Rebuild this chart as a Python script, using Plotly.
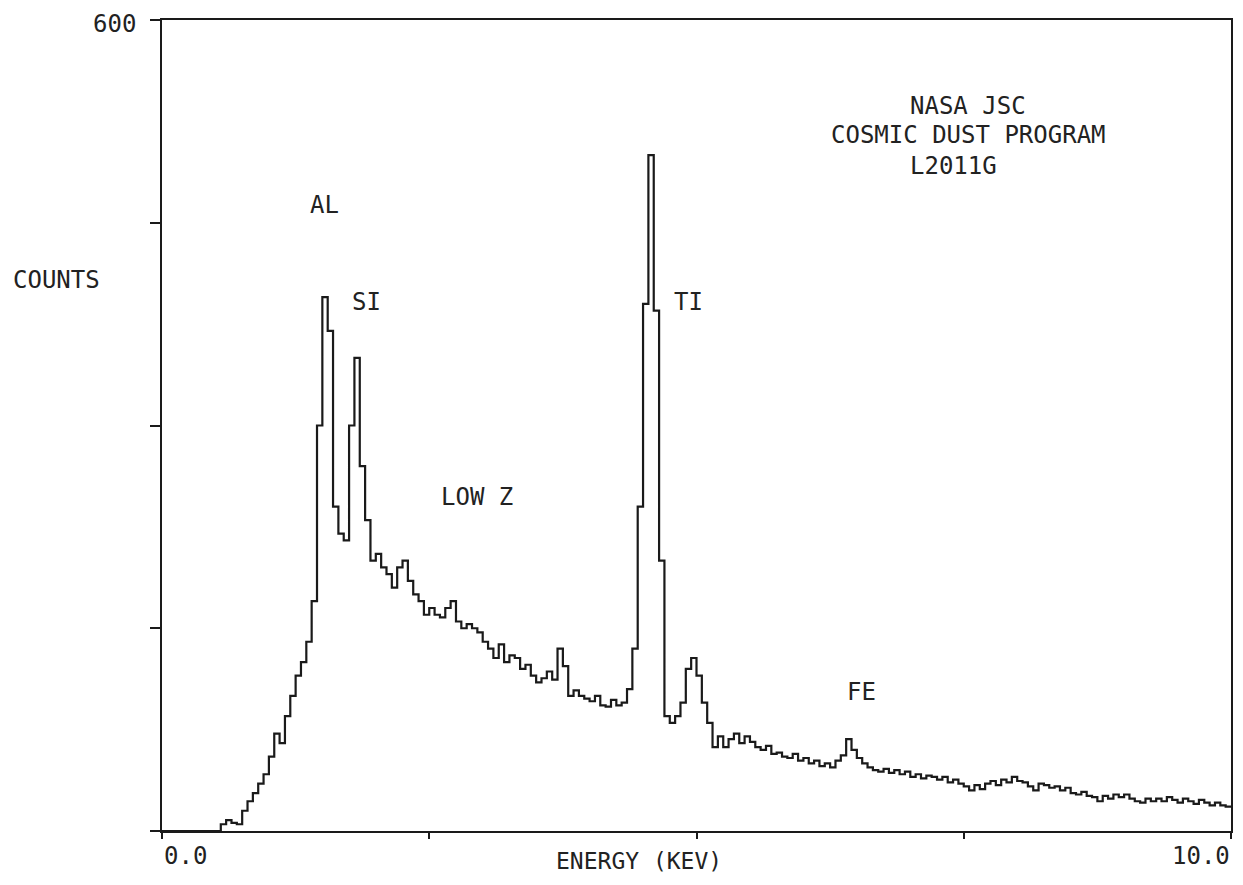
import plotly.graph_objects as go

# Channel energies (keV, left edge of each 0.05 keV channel) and counts
channel_width = 0.05
counts = [
    0, 0, 0, 0, 0, 0, 0, 0, 0, 0,            # 0.00-0.45
    0, 5, 8, 6, 5, 15, 22, 28, 35, 42,       # 0.50-0.95
    55, 72, 65, 85, 100, 115, 125, 140, 170, 300,   # 1.00-1.45
    395, 370, 240, 220, 215, 300, 350, 270, 230, 200,  # 1.50-1.95
    205, 195, 190, 180, 195, 200, 185, 175, 170, 160,  # 2.00-2.45
    165, 160, 158, 165, 170, 155, 150, 153, 150, 147,  # 2.50-2.95
    140, 135, 128, 138, 125, 130, 128, 120, 123, 115,  # 3.00-3.45
    110, 113, 118, 112, 135, 122, 100, 104, 100, 98,   # 3.50-3.95
    96, 100, 93, 92, 97, 93, 95, 105, 135, 240,        # 4.00-4.45
    390, 500, 385, 200, 85, 80, 85, 95, 120, 128,      # 4.50-4.95
    115, 95, 80, 62, 70, 62, 68, 72, 65, 70,           # 5.00-5.45
    66, 62, 60, 63, 57, 58, 55, 54, 57, 52,            # 5.50-5.95
    54, 50, 52, 48, 50, 47, 52, 56, 68, 60,            # 6.00-6.45
    54, 50, 47, 45, 44, 46, 43, 45, 42, 44,            # 6.50-6.95
    40, 42, 39, 41, 40, 38, 40, 36, 38, 35,            # 7.00-7.45
    33, 30, 34, 31, 35, 37, 34, 38, 36, 40,            # 7.50-7.95
    37, 36, 33, 30, 35, 34, 32, 33, 30, 32,            # 8.00-8.45
    28, 27, 29, 26, 25, 22, 26, 24, 27, 25,            # 8.50-8.95
    27, 24, 22, 21, 24, 22, 24, 22, 25, 23,            # 9.00-9.45
    21, 24, 22, 20, 23, 21, 19, 21, 19, 18,            # 9.50-9.95
]
energies = [round(i * channel_width, 3) for i in range(len(counts))]

x_tick_values = [0, 2.5, 5.0, 7.5, 10.0]
y_tick_values = [0, 150, 300, 450, 600]
x_end_labels = ["0.0", "10.0"]
y_top_label = "600"

peak_labels = ["AL", "SI", "LOW Z", "TI", "FE"]
header_lines = ["NASA JSC", "COSMIC DUST PROGRAM", "L2011G"]

# step line: append last edge
xs = energies + [10.0]
ys = counts + [counts[-1]]

fig = go.Figure()
fig.add_trace(go.Scatter(
    x=xs, y=ys, mode="lines", line=dict(shape="hv", color="#1a1a1a", width=2.2),
    hoverinfo="skip", showlegend=False,
))

FONT = "DejaVu Sans Mono"
TXT = "#222222"
OFF = 8  # page body margin
W, H = 1243 - 2 * OFF, 885 - 2 * OFF
# plot-area edges in window pixels
L, R, T, B = 162, 1233, 20, 831

def px(xp, yp):
    return (xp - L) / (R - L), (B - yp) / (B - T)

def add_text(text, xp, yp, size=24, xanchor="center"):
    ax, ay = px(xp, yp)
    fig.add_annotation(x=ax, y=ay, xref="paper", yref="paper", text=text,
                       showarrow=False, xanchor=xanchor, yanchor="middle",
                       font=dict(family=FONT, size=size, color=TXT))

# header
add_text(header_lines[0], 970, 106)
add_text(header_lines[1], 970, 135)
add_text(header_lines[2], 955, 166)
# peak labels
add_text(peak_labels[0], 325, 205)
add_text(peak_labels[1], 367, 302)
add_text(peak_labels[2], 478, 497)
add_text(peak_labels[3], 689, 302)
add_text(peak_labels[4], 863, 692)
# axis labels
add_text("COUNTS", 56, 280)
add_text("ENERGY (KEV)", 640, 861, size=23)
add_text(x_end_labels[0], 162, 856, xanchor="left")
add_text(x_end_labels[1], 1234, 856, xanchor="right")
add_text(y_top_label, 138, 24, xanchor="right")

fig.update_layout(
    width=W, height=H,
    margin=dict(l=L - OFF, r=W - (R - OFF), t=T - OFF, b=H - (B - OFF), pad=0),
    paper_bgcolor="white", plot_bgcolor="white",
    showlegend=False,
)
fig.update_xaxes(range=[0, 10], tickvals=x_tick_values, showticklabels=False,
                 ticks="outside", ticklen=6, tickwidth=2, tickcolor="#1a1a1a",
                 showline=True, linecolor="#1a1a1a", linewidth=2, mirror=True,
                 showgrid=False, zeroline=False)
fig.update_yaxes(range=[0, 600], tickvals=y_tick_values, showticklabels=False,
                 ticks="outside", ticklen=10, tickwidth=2, tickcolor="#1a1a1a",
                 showline=True, linecolor="#1a1a1a", linewidth=2, mirror=True,
                 showgrid=False, zeroline=False)

fig.write_html("out.html")
